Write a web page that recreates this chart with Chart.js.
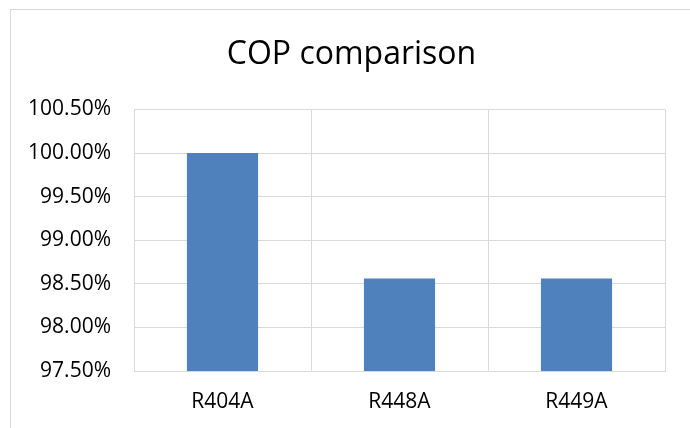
<!DOCTYPE html>
<html>
<head>
<meta charset="utf-8">
<script src="https://cdn.jsdelivr.net/npm/chart.js@4"></script>
<style>
  html, body { margin: 0; padding: 0; background: #ffffff; }
  #wrap { width: 690px; height: 428px; position: relative; }
</style>
</head>
<body>
<div id="wrap"><canvas id="chart" width="690" height="428"></canvas></div>
<script>
// Refrigerants compared and their relative COP (percent of R404A)
const categories = ['R404A', 'R448A', 'R449A'];
const copValues = [100.0, 98.56, 98.56];
const yTickMin = 97.5;
const yTickMax = 100.5;
const yTickStep = 0.5;

const FONT = "'Open Sans', 'Liberation Sans', sans-serif";
const GRID = '#d9d9d9';

// Thin outer frame of the chart object
const frame = {
  id: 'frame',
  beforeDraw(chart) {
    const c = chart.ctx;
    c.save();
    c.fillStyle = '#ffffff';
    c.fillRect(0, 0, chart.width, chart.height);
    c.strokeStyle = GRID;
    c.lineWidth = 1;
    c.strokeRect(10.5, 9.5, 720, 460);
    c.restore();
  }
};

new Chart(document.getElementById('chart'), {
  type: 'bar',
  data: {
    labels: categories,
    datasets: [{
      label: 'COP',
      data: copValues,
      backgroundColor: '#4f81bd',
      borderWidth: 0,
      categoryPercentage: 1,
      barPercentage: 0.402
    }]
  },
  options: {
    responsive: false,
    animation: false,
    layout: { padding: { left: 13, right: 0, top: 0, bottom: 0 } },
    plugins: {
      legend: { display: false },
      tooltip: { enabled: false },
      title: {
        display: true,
        text: 'COP comparison',
        color: '#000000',
        font: { family: FONT, size: 32, weight: 'normal' },
        padding: { top: 36, bottom: 35 }
      }
    },
    scales: {
      x: {
        grid: { color: GRID, lineWidth: 1, drawTicks: false, offset: true },
        border: { color: GRID, width: 1 },
        ticks: { color: '#000000', font: { family: FONT, size: 21 }, padding: 18 },
        afterFit: s => { s.height = 57; }
      },
      y: {
        min: yTickMin,
        max: yTickMax,
        grid: { color: GRID, lineWidth: 1, drawTicks: false },
        border: { color: GRID, width: 1 },
        ticks: {
          stepSize: yTickStep,
          color: '#000000',
          font: { family: FONT, size: 21 },
          padding: 23,
          callback: v => v.toFixed(2) + '%'
        },
        afterFit: s => { s.width = 121; }
      },
      // empty spacer on the right so the plot ends short of the frame
      spacer: {
        type: 'linear',
        position: 'right',
        display: true,
        grid: { display: false, drawTicks: false },
        border: { display: false },
        ticks: { display: false },
        afterFit: s => { s.width = 25; }
      }
    }
  },
  plugins: [frame]
});
</script>
</body>
</html>
